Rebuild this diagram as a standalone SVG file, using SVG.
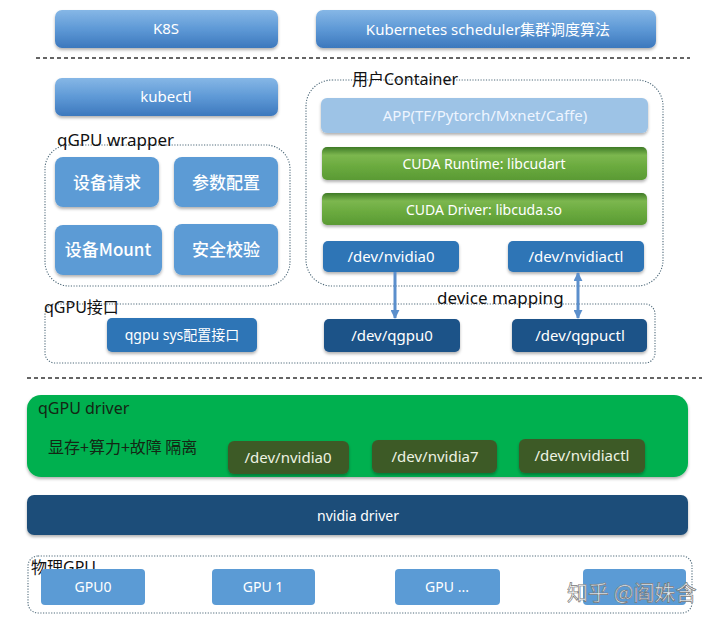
<svg xmlns="http://www.w3.org/2000/svg" width="720" height="623" viewBox="0 0 720 623">
<defs>
<linearGradient id="gBlue" x1="0" y1="0" x2="0" y2="1">
<stop offset="0" stop-color="#86b7e6"/><stop offset="0.5" stop-color="#5e99d6"/><stop offset="1" stop-color="#3c78bd"/>
</linearGradient>
<linearGradient id="gGreen" x1="0" y1="0" x2="0" y2="1">
<stop offset="0" stop-color="#3f7a26"/><stop offset="0.25" stop-color="#7cb74f"/><stop offset="0.6" stop-color="#6aaa3e"/><stop offset="1" stop-color="#5a9a34"/>
</linearGradient>
<filter id="sh" x="-10%" y="-20%" width="120%" height="150%">
<feDropShadow dx="0" dy="2" stdDeviation="1.5" flood-color="#000" flood-opacity="0.3"/>
</filter>
<marker id="ah" viewBox="0 0 10 10" refX="9" refY="5" markerWidth="9" markerHeight="9" markerUnits="userSpaceOnUse" orient="auto-start-reverse">
<path d="M0,0 L10,5 L0,10 z" fill="#5b8fcc"/>
</marker>
<style>
text{font-family:"Noto Sans","Open Sans","Noto Sans CJK SC",sans-serif;}
.w{fill:#fff;text-anchor:middle;font-size:14px;}
.wl{fill:#eef5ff;text-anchor:middle;font-size:15px;}
.cn{fill:#fff;text-anchor:middle;font-size:17px;font-family:"Noto Sans CJK SC",sans-serif;font-weight:500;}
.lbl{fill:#111;font-size:16px;font-family:"Noto Sans","Noto Sans CJK SC",sans-serif;}
.dot{fill:none;stroke:#4f6a7a;stroke-width:1.1;stroke-dasharray:1.2 1.5;}
.dash{stroke:#333;stroke-width:1.3;stroke-dasharray:4 3;}
.conn{stroke:#5b8fcc;stroke-width:3;fill:none;}
</style>
</defs>
<rect width="720" height="623" fill="#fff"/>

<g id="sep">
<line class="dash" x1="36" y1="58" x2="690" y2="58"/>
<line class="dash" x1="27" y1="378" x2="702" y2="378"/>
</g>

<g id="k8s"><rect x="55" y="10" width="223" height="38" rx="7" fill="url(#gBlue)" filter="url(#sh)"/><text class="w" x="166" y="34" style="font-size:15px">K8S</text></g>
<g id="scheduler"><rect x="316" y="10" width="340" height="38" rx="7" fill="url(#gBlue)" filter="url(#sh)"/><text class="w" x="488" y="35" style="font-size:15px">Kubernetes scheduler集群调度算法</text></g>
<g id="kubectl"><rect x="55" y="78" width="223" height="38" rx="7" fill="url(#gBlue)" filter="url(#sh)"/><text class="w" x="166" y="102" style="font-size:15px">kubectl</text></g>

<g id="container">
<rect class="dot" x="306" y="80" width="357" height="206" rx="26"/>
<text class="lbl" x="352" y="85">用户Container</text>
</g>
<g id="app"><rect x="321" y="98" width="327" height="35" rx="6" fill="#9dc3e6" filter="url(#sh)"/><text class="wl" x="485" y="121">APP(TF/Pytorch/Mxnet/Caffe)</text></g>
<g id="cudart"><rect x="322" y="147" width="325" height="33" rx="5" fill="url(#gGreen)" filter="url(#sh)"/><text class="w" x="484" y="169">CUDA Runtime: libcudart</text></g>
<g id="cudadrv"><rect x="322" y="193" width="325" height="32" rx="5" fill="url(#gGreen)" filter="url(#sh)"/><text class="w" x="484" y="215">CUDA Driver: libcuda.so</text></g>
<g id="nvidia0c"><rect x="323" y="241" width="136" height="31" rx="5" fill="#2e75b6" filter="url(#sh)"/><text class="w" x="391" y="262" style="font-size:15px">/dev/nvidia0</text></g>
<g id="nvidiactlc"><rect x="508" y="241" width="136" height="31" rx="5" fill="#2e75b6" filter="url(#sh)"/><text class="w" x="576" y="262" style="font-size:15px">/dev/nvidiactl</text></g>

<g id="wrapper">
<rect class="dot" x="45" y="145" width="245" height="141" rx="24"/>
<text class="lbl" x="57" y="146" style="font-size:17px">qGPU wrapper</text>
</g>
<g id="req"><rect x="55" y="157" width="104" height="50" rx="8" fill="#5b9bd5" filter="url(#sh)"/><text class="cn" x="107" y="189">设备请求</text></g>
<g id="param"><rect x="174" y="157" width="104" height="50" rx="8" fill="#5b9bd5" filter="url(#sh)"/><text class="cn" x="226" y="189">参数配置</text></g>
<g id="mount"><rect x="55" y="225" width="107" height="50" rx="8" fill="#5b9bd5" filter="url(#sh)"/><text class="cn" x="108" y="256">设备Mount</text></g>
<g id="sec"><rect x="174" y="224" width="104" height="51" rx="8" fill="#5b9bd5" filter="url(#sh)"/><text class="cn" x="226" y="256">安全校验</text></g>

<g id="qgpuif">
<rect class="dot" x="45" y="304" width="610" height="59" rx="10"/>
<text class="lbl" x="44" y="313">qGPU接口</text>
<text class="lbl" x="437" y="304" style="font-size:17px">device mapping</text>
</g>
<g id="sysif"><rect x="107" y="318" width="150" height="34" rx="5" fill="#2e75b6" filter="url(#sh)"/><text class="w" x="182" y="340">qgpu sys配置接口</text></g>
<g id="qgpu0"><rect x="324" y="319" width="136" height="33" rx="5" fill="#1f5288" filter="url(#sh)"/><text class="w" x="392" y="341" style="font-size:15px">/dev/qgpu0</text></g>
<g id="qgpuctl"><rect x="512" y="319" width="135" height="33" rx="5" fill="#1f5288" filter="url(#sh)"/><text class="w" x="580" y="341" style="font-size:15px">/dev/qgpuctl</text></g>

<g id="connectors">
<line class="conn" x1="395" y1="272" x2="395" y2="318" marker-end="url(#ah)"/>
<line class="conn" x1="578" y1="273" x2="578" y2="318" marker-start="url(#ah)" marker-end="url(#ah)"/>
</g>

<g id="qgpudriver">
<rect x="27" y="395" width="661" height="82" rx="14" fill="#00b050" filter="url(#sh)"/>
<text x="38" y="414" style="font-size:16px;fill:#142614">qGPU driver</text>
<text x="48" y="453" style="font-size:16px;fill:#142614;font-family:'Noto Sans CJK SC',sans-serif">显存+算力+故障 隔离</text>
</g>
<g id="dn0"><rect x="228" y="441" width="121" height="33" rx="6" fill="#3e5a27" filter="url(#sh)"/><text class="w" x="288" y="463" style="font-size:15px;fill:#eef3e2">/dev/nvidia0</text></g>
<g id="dn7"><rect x="372" y="440" width="125" height="33" rx="6" fill="#3e5a27" filter="url(#sh)"/><text class="w" x="435" y="462" style="font-size:15px;fill:#eef3e2">/dev/nvidia7</text></g>
<g id="dnctl"><rect x="519" y="439" width="126" height="34" rx="6" fill="#3e5a27" filter="url(#sh)"/><text class="w" x="582" y="461" style="font-size:15px;fill:#eef3e2">/dev/nvidiactl</text></g>

<g id="nvdriver"><rect x="27" y="495" width="661" height="40" rx="7" fill="#1f4e79" filter="url(#sh)"/><text class="w" x="358" y="521">nvidia driver</text></g>

<g id="phys">
<rect class="dot" x="28" y="556" width="664" height="57" rx="10"/>
<text class="lbl" x="31" y="573">物理GPU</text>
</g>
<g id="gpu0"><rect x="41" y="569" width="104" height="36" rx="4" fill="#5b9bd5"/><text class="w" x="93" y="592">GPU0</text></g>
<g id="gpu1"><rect x="212" y="569" width="103" height="36" rx="4" fill="#5b9bd5"/><text class="w" x="263" y="592">GPU 1</text></g>
<g id="gpun"><rect x="395" y="569" width="105" height="36" rx="4" fill="#5b9bd5"/><text class="w" x="447" y="592">GPU ...</text></g>
<g id="gpu7"><rect x="583" y="569" width="103" height="36" rx="4" fill="#5b9bd5"/></g>

<g id="watermark">
<text x="567" y="600" style="font-size:21px;fill:#fff;fill-opacity:0.85;stroke:#777;stroke-width:0.7;font-family:'Noto Sans CJK SC',sans-serif">知乎 @阎姝含</text>
</g>
</svg>
